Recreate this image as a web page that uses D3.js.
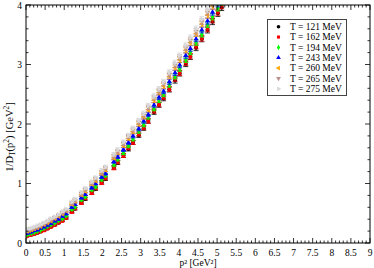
<!DOCTYPE html>
<html lang="en">
<head>
<meta charset="UTF-8">
<title>1/D_T(p2) vs p2</title>
<script src="https://d3js.org/d3.v7.min.js"></script>
<style>
  body { margin: 0; background: white; }
  svg { display: block; font-family: 'Liberation Serif', 'DejaVu Serif', serif; }
  .lbl { font-size: 9.5px; fill: black; }
</style>
</head>
<body>
<svg width="374" height="268"></svg>
<script>
// momenta squared (GeV^2), shared by all temperatures
var p2 = [0, 0.04, 0.09, 0.15, 0.22, 0.3, 0.38, 0.47, 0.56, 0.65, 0.75, 0.85, 0.95, 1.05,
          1.2, 1.28, 1.45, 1.55, 1.72, 1.82, 1.98, 2.08, 2.3, 2.4, 2.55, 2.68, 2.8, 2.95,
          3.08, 3.2, 3.35, 3.48, 3.6, 3.75, 3.9, 4.02, 4.18, 4.3, 4.45, 4.6, 4.75, 4.88, 5.02, 5.12];
var errs = [0.01,0.01,0.01,0.01,0.01,0.01,0.01,0.012,0.012,0.012,0.014,0.014,0.015,0.016,
            0.02,0.02,0.022,0.022,0.025,0.025,0.028,0.028,0.03,0.03,0.032,0.033,0.034,0.035,
            0.036,0.037,0.038,0.04,0.04,0.042,0.043,0.044,0.045,0.046,0.047,0.048,0.05,0.05,0.052,0.053];

var t121 = [0.12,0.125,0.133,0.142,0.155,0.172,0.192,0.218,0.245,0.272,0.305,0.34,0.378,0.42,
            0.53,0.575,0.68,0.74,0.845,0.91,1.02,1.08,1.27,1.35,1.47,1.58,1.69,1.81,
            1.93,2.05,2.2,2.32,2.43,2.58,2.73,2.85,3.01,3.13,3.28,3.43,3.58,3.72,3.86,3.96];
var t162 = [0.11,0.12,0.13,0.14,0.15,0.17,0.19,0.21,0.24,0.27,0.30,0.34,0.37,0.42,
            0.52,0.58,0.67,0.75,0.84,0.92,1.01,1.09,1.26,1.36,1.47,1.60,1.69,1.83,
            1.94,2.05,2.22,2.33,2.45,2.59,2.76,2.86,3.03,3.14,3.31,3.44,3.60,3.75,3.88,3.99];
var t194 = [0.14,0.15,0.16,0.17,0.18,0.20,0.22,0.25,0.28,0.31,0.34,0.38,0.41,0.46,
            0.57,0.61,0.73,0.78,0.90,0.95,1.07,1.14,1.32,1.41,1.52,1.64,1.75,1.88,
            1.99,2.12,2.26,2.40,2.50,2.66,2.80,2.93,3.08,3.21,3.37,3.51,3.67,3.80,3.95,4.05];
var t243 = [0.16,0.17,0.18,0.19,0.21,0.22,0.25,0.27,0.30,0.33,0.37,0.40,0.45,0.49,
            0.60,0.65,0.76,0.82,0.93,1.00,1.11,1.17,1.37,1.45,1.57,1.69,1.80,1.92,
            2.05,2.16,2.32,2.45,2.55,2.71,2.86,2.99,3.15,3.27,3.43,3.58,3.73,3.88,4.02,4.12];
var t260 = [0.20,0.20,0.21,0.22,0.24,0.26,0.28,0.31,0.34,0.37,0.41,0.45,0.49,0.54,
            0.65,0.70,0.81,0.87,0.99,1.05,1.17,1.23,1.43,1.52,1.64,1.76,1.87,2.00,
            2.12,2.24,2.40,2.53,2.64,2.80,2.95,3.08,3.24,3.37,3.52,3.68,3.83,3.98,4.12,4.23];
var t265 = [0.21,0.21,0.23,0.24,0.25,0.27,0.30,0.33,0.36,0.39,0.43,0.47,0.51,0.55,
            0.67,0.72,0.83,0.90,1.01,1.08,1.19,1.26,1.46,1.54,1.67,1.79,1.90,2.03,
            2.15,2.28,2.44,2.56,2.68,2.83,2.99,3.12,3.28,3.41,3.56,3.72,3.88,4.02,4.17,4.27];
var t275 = [0.22,0.23,0.24,0.25,0.27,0.29,0.31,0.34,0.37,0.41,0.44,0.48,0.53,0.57,
            0.69,0.74,0.85,0.92,1.03,1.10,1.22,1.28,1.49,1.57,1.70,1.81,1.93,2.06,
            2.18,2.31,2.47,2.59,2.71,2.87,3.03,3.15,3.32,3.45,3.60,3.76,3.92,4.06,4.21,4.32];

var legendLabels = ["T = 121 MeV", "T = 162 MeV", "T = 194 MeV", "T = 243 MeV",
                    "T = 260 MeV", "T = 265 MeV", "T = 275 MeV"];
var xTicks = d3.range(0, 9.01, 0.5);
var yTicks = [0, 1, 2, 3, 4];

var seriesVals = [t121, t162, t194, t243, t260, t265, t275];
var colors = ["#000000", "#ff0000", "#00ff00", "#0000ff", "#ffa500", "#bc8f8f", "#d8d8d8"];
var shapes = [d3.symbolCircle, d3.symbolSquare, d3.symbolDiamond, d3.symbolTriangle,
              d3.symbolTriangle, d3.symbolTriangle, d3.symbolTriangle];
var rotations = [0, 0, 0, 0, -90, 180, 90];
var sizes = [13, 12, 12, 12, 12, 12, 12];

var svg = d3.select("svg");
var plotL = 26, plotR = 370, plotT = 5, plotB = 243;

var x = d3.scaleLinear().domain([0, 9]).range([plotL, plotR]);
var y = d3.scaleLinear().domain([0, 4]).range([plotB, plotT]);

svg.append("clipPath").attr("id", "plotclip")
  .append("rect").attr("x", plotL).attr("y", plotT)
  .attr("width", plotR - plotL).attr("height", plotB - plotT);

var dataG = svg.append("g").attr("clip-path", "url(#plotclip)");

seriesVals.forEach(function(vals, i) {
  var pts = p2.map(function(p, j) { return { p: p, v: vals[j], e: errs[j] }; });
  var g = dataG.append("g");
  // error bars
  g.selectAll("path.err").data(pts).enter().append("path")
    .attr("class", "err")
    .attr("d", function(d) {
      var cx = x(d.p), y1 = y(d.v + d.e), y2 = y(d.v - d.e);
      return "M" + cx + "," + y1 + "V" + y2 +
             "M" + (cx - 2.5) + "," + y1 + "h5" +
             "M" + (cx - 2.5) + "," + y2 + "h5";
    })
    .attr("stroke", colors[i]).attr("stroke-width", 0.8).attr("fill", "none");
  // markers
  g.selectAll("path.mk").data(pts).enter().append("path")
    .attr("class", "mk")
    .attr("d", d3.symbol().type(shapes[i]).size(sizes[i]))
    .attr("transform", function(d) {
      return "translate(" + x(d.p) + "," + y(d.v) + ") rotate(" + rotations[i] + ")";
    })
    .attr("fill", colors[i]);
});

// frame
svg.append("rect").attr("x", plotL).attr("y", plotT)
  .attr("width", plotR - plotL).attr("height", plotB - plotT)
  .attr("fill", "none").attr("stroke", "black").attr("stroke-width", 1);

// ticks on all four sides
var xMinor = d3.range(0, 9.001, 0.1);
var yMinor = d3.range(0, 4.001, 0.2);
var tickG = svg.append("g").attr("stroke", "black").attr("stroke-width", 0.8);
xMinor.forEach(function(v) {
  var major = Math.abs(v * 2 - Math.round(v * 2)) < 1e-6;
  var len = major ? 5 : 2.5;
  tickG.append("line").attr("x1", x(v)).attr("x2", x(v)).attr("y1", plotB).attr("y2", plotB - len);
  tickG.append("line").attr("x1", x(v)).attr("x2", x(v)).attr("y1", plotT).attr("y2", plotT + len);
});
yMinor.forEach(function(v) {
  var major = Math.abs(v - Math.round(v)) < 1e-6;
  var len = major ? 5 : 2.5;
  tickG.append("line").attr("y1", y(v)).attr("y2", y(v)).attr("x1", plotL).attr("x2", plotL + len);
  tickG.append("line").attr("y1", y(v)).attr("y2", y(v)).attr("x1", plotR).attr("x2", plotR - len);
});

// tick labels
svg.append("g").selectAll("text").data(xTicks).enter().append("text")
  .attr("class", "lbl").attr("x", function(d) { return x(d); }).attr("y", plotB + 13)
  .attr("text-anchor", "middle").text(function(d) { return d3.format("")(d); });
svg.append("g").selectAll("text").data(yTicks).enter().append("text")
  .attr("class", "lbl").attr("x", plotL - 4).attr("y", function(d) { return y(d) + 3.5; })
  .attr("text-anchor", "end").text(function(d) { return d; });

// axis titles
svg.append("text").attr("class", "lbl").attr("x", (plotL + plotR) / 2).attr("y", 266)
  .attr("text-anchor", "middle").text("p² [GeV²]");

var yt = svg.append("text").attr("class", "lbl").style("font-size", "10.5px")
  .attr("transform", "translate(13,137) rotate(-90)").attr("text-anchor", "middle");
yt.append("tspan").text("1/D");
yt.append("tspan").attr("font-size", "7.5px").attr("dy", 2).text("T");
yt.append("tspan").attr("dy", -2).text("(p");
yt.append("tspan").attr("font-size", "7.5px").attr("dy", -4).text("2");
yt.append("tspan").attr("dy", 4).text(")  [GeV");
yt.append("tspan").attr("font-size", "7.5px").attr("dy", -4).text("2");
yt.append("tspan").attr("dy", 4).text("]");

// legend
var lg = svg.append("g");
lg.append("rect").attr("x", 267.5).attr("y", 19.5).attr("width", 79).attr("height", 76)
  .attr("fill", "white").attr("stroke", "#444").attr("stroke-width", 1);
legendLabels.forEach(function(lab, i) {
  var ly = 26.7 + i * 10.35;
  lg.append("path")
    .attr("d", d3.symbol().type(shapes[i]).size(sizes[i] * 0.8))
    .attr("transform", "translate(278.5," + ly + ") rotate(" + rotations[i] + ")")
    .attr("fill", colors[i]);
  lg.append("text").attr("class", "lbl").attr("x", 290).attr("y", ly + 3.3).text(lab);
});
</script>
</body>
</html>
